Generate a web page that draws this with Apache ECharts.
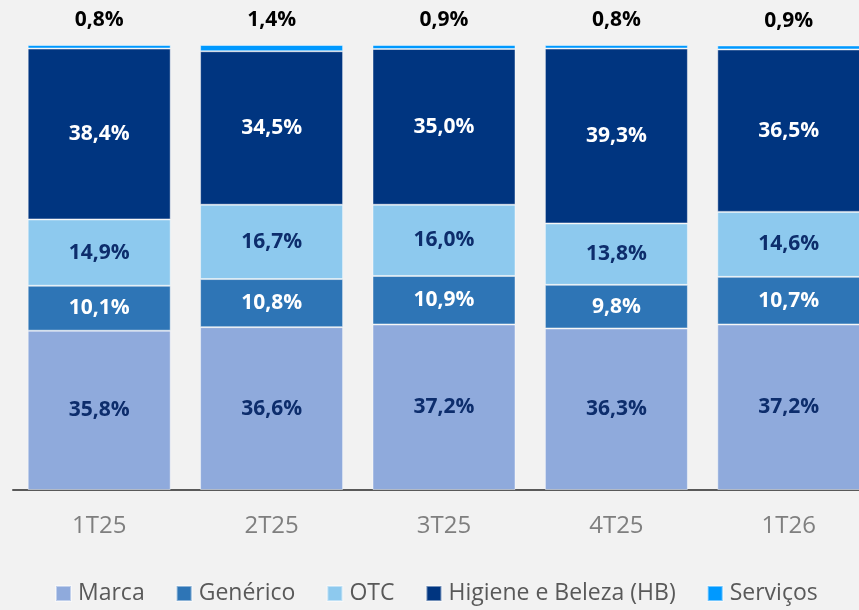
<!DOCTYPE html>
<html>
<head>
<meta charset="utf-8" />
<script src="https://cdn.jsdelivr.net/npm/echarts@6/dist/echarts.min.js"></script>
<style>
  html, body { margin: 0; padding: 0; background: #f2f2f2; }
  #chart { width: 859px; height: 610px; }
</style>
</head>
<body>
<div id="chart"></div>
<script>
// categorias (trimestres)
const categories = ["1T25", "2T25", "3T25", "4T25", "1T26"];
// participação por segmento (%)
const marca = [35.8, 36.6, 37.2, 36.3, 37.2];
const generico = [10.1, 10.8, 10.9, 9.8, 10.7];
const otc = [14.9, 16.7, 16.0, 13.8, 14.6];
const hb = [38.4, 34.5, 35.0, 39.3, 36.5];
const servicos = [0.8, 1.4, 0.9, 0.8, 0.9];

const font = "'Open Sans', sans-serif";
const fmt = (p) => p.value.toFixed(1).replace(".", ",") + "%";

const chart = echarts.init(document.getElementById("chart"));

const mkSeries = (name, data, color, labelColor, top) => ({
  name,
  type: "bar",
  stack: "total",
  data,
  barWidth: 143,
  itemStyle: {
    color,
    borderColor: "rgba(255,255,255,0.45)",
    borderWidth: 1,
  },
  label: {
    show: true,
    position: top ? "top" : "inside",
    distance: top ? 14 : 5,
    formatter: fmt,
    color: labelColor,
    fontFamily: font,
    fontWeight: "bold",
    fontSize: 21,
  },
});

chart.setOption({
  backgroundColor: "#f2f2f2",
  animation: false,
  grid: { left: 13, right: -16, top: 45, bottom: 120, outerBoundsMode: "none" },
  legend: {
    bottom: 0,
    left: 50,
    itemWidth: 15,
    itemHeight: 15,
    itemGap: 31,
    icon: "rect",
    textStyle: { color: "#595959", fontSize: 23, fontFamily: font, padding: [0, 0, 0, 2] },
    data: [
      "Marca",
      "Genérico",
      "OTC",
      { name: "Higiene e Beleza (HB)", textStyle: { width: 244 } },
      "Serviços",
    ],
  },
  xAxis: {
    type: "category",
    data: categories,
    axisLine: { lineStyle: { color: "#595959", width: 2 } },
    axisTick: { show: false },
    axisLabel: { color: "#7f7f7f", fontSize: 24, fontFamily: font, margin: 24 },
  },
  yAxis: {
    type: "value",
    min: 0,
    max: 100,
    show: false,
  },
  series: [
    mkSeries("Marca", marca, "#8faadc", "#0d2d6c"),
    mkSeries("Genérico", generico, "#2e75b6", "#ffffff"),
    mkSeries("OTC", otc, "#8dc9ee", "#0d2d6c"),
    mkSeries("Higiene e Beleza (HB)", hb, "#003580", "#ffffff"),
    mkSeries("Serviços", servicos, "#0099ff", "#000000", true),
  ],
});
</script>
</body>
</html>
